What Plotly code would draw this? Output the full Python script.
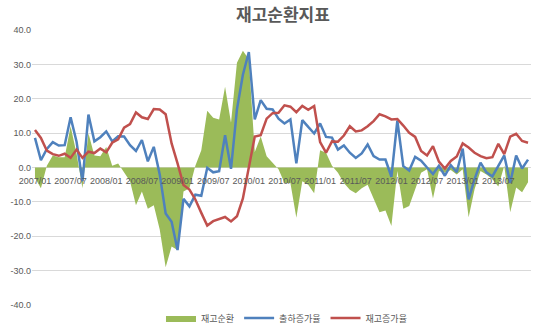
import plotly.graph_objects as go

# Monthly categories 2007/01 .. 2013/12
months = [f"{y}/{m:02d}" for y in range(2007, 2014) for m in range(1, 13)]
tick_labels = [m for m in months if m.endswith("/01") or m.endswith("/07")]

# 재고순환 (inventory cycle) - area
inv_cycle = [
    -3, -6, 0.5, 3.5, 3, 3, 12, 4, -6, 10, 3.5, 3.3,
    6, 0.5, 1.2, -1.5, -4, -11, -7, -12, -11, -18, -29, -23,
    -24, -7, -6, 0.5, 5, 16.5, 14.5, 14, 23.5, 13, 30.5, 34,
    31.5, 4.5, 9, 3.3, 1.5, -0.5, -4.5, -4.5, -14.6, -4, -5, -7.5,
    5, 4.3, 0.5, -1.5, -4.5, -6.5, -7.5, -6, -5, -9, -13, -12.5,
    -17, -1, -12, -11.2, -6.5, -1.5, -0.5, -9, -1, -1.5, -0.7, -2,
    -0.5, -14.5, -6.3, -1, -2, -3.4, -5.5, 0.5, -13, -5.8, -7.2, -4.3,
]

# 출하증가율 (shipment growth) - blue line
shipment = [
    8.6, 2.1, 5.4, 7.4, 6.4, 6.5, 14.6, 7.5, -4, 15.4, 7.6, 8.8,
    10.5, 7.6, 9.1, 9.0, 6.5, 4.8, 8.0, 1.8, 6.0, -2, -13.4, -15.8,
    -24, -9.1, -11.3, -7.9, -8.2, -0.1, -1.4, -1.1, 9.4, -0.4, 16.9, 27,
    33.6, 14, 19.6, 17.1, 16.9, 14.2, 12.8, 14, 1.2, 13.8, 11.8, 9.9,
    12.8, 8.9, 8.7, 5.2, 6.4, 4.3, 2.8, 4.1, 6.7, 3.3, 2.3, 2.3,
    -2.7, 13.6, 0.4, -0.9, 3.1, 2.0, 0, -1.9, 0.5, -2.4, 0.7, -1.4,
    5.5, -9.3, -3.4, 1.4, -1.4, -2.6, 0.5, 3.5, -4.5, 3.5, -0.3, 2.3,
]

# 재고증가율 (inventory growth) - red line
inventory = [
    10.9, 8.6, 4.9, 3.9, 3.4, 4.0, 2.8, 5.2, 2.8, 4.6, 4.2, 5.5,
    4.4, 7.2, 8.2, 11.6, 12.6, 16.0, 14.6, 14.1, 17.0, 16.9, 15.5, 7.0,
    1.2, -5.1, -6.4, -9.3, -13.2, -16.9, -15.6, -15.1, -14.4, -15.7, -14.2, -9,
    0, 9.0, 9.4, 14.2, 15.8, 15.9, 18.1, 17.7, 16.1, 17.9, 16.8, 17.9,
    7.4, 4.3, 7.6, 7.5, 9.3, 12.0, 10.5, 10.8, 12.0, 13.5, 15.5, 14.9,
    14.0, 14.1, 12.2, 10.1, 8.9, 4.8, 3.5, 6.2, 1.7, -0.3, 1.9, 3.2,
    7.0, 5.8, 4.3, 3.3, 2.7, 3.0, 6.9, 3.9, 9.0, 9.8, 7.7, 7.2,
]

y_ticks = [-40, -30, -20, -10, 0, 10, 20, 30, 40]

fig = go.Figure()
fig.add_trace(go.Scatter(
    x=months, y=inv_cycle, name="재고순환", mode="lines",
    line=dict(width=0, color="#9BBB59"), fill="tozeroy", fillcolor="#9BBB59",
))
fig.add_trace(go.Scatter(
    x=months, y=shipment, name="출하증가율", mode="lines",
    line=dict(width=2.5, color="#4F81BD"),
))
fig.add_trace(go.Scatter(
    x=months, y=inventory, name="재고증가율", mode="lines",
    line=dict(width=2.5, color="#C0504D"),
))

fig.update_layout(
    width=540, height=329,
    margin=dict(l=32, r=9, t=30, b=24, autoexpand=False),
    paper_bgcolor="white", plot_bgcolor="white",
    title=dict(text="<b>재고순환지표</b>", x=0.524, xanchor="center",
               y=1 - 15 / 329, yanchor="middle", yref="container",
               font=dict(family="Noto Sans CJK KR", size=17, color="#595959")),
    showlegend=True,
    legend=dict(orientation="h", x=0.51, xanchor="center",
                yref="container", y=(329 - 318) / 329, yanchor="middle",
                font=dict(family="Noto Sans CJK KR", size=9, color="#595959"),
                itemwidth=30, tracegroupgap=0, bgcolor="rgba(0,0,0,0)"),
    xaxis=dict(type="category", categoryorder="array", categoryarray=months,
               range=[-0.5, len(months) - 0.5],
               tickmode="array", tickvals=tick_labels, ticktext=tick_labels,
               showgrid=False, showline=False, zeroline=False,
               ticks="outside", ticklen=5, tickcolor="rgba(0,0,0,0)",
               anchor="free", position=0.5, tickangle=0,
               tickfont=dict(family="Liberation Sans", size=9, color="#595959")),
    yaxis=dict(range=[-40, 40], tickmode="array", tickvals=y_ticks,
               ticktext=[f"{v:.1f}" for v in y_ticks],
               showgrid=True, gridcolor="#D9D9D9", gridwidth=1,
               zeroline=False, showline=False, ticks="",
               tickfont=dict(family="Liberation Sans", size=9, color="#595959")),
)

fig.write_html("out.html")
